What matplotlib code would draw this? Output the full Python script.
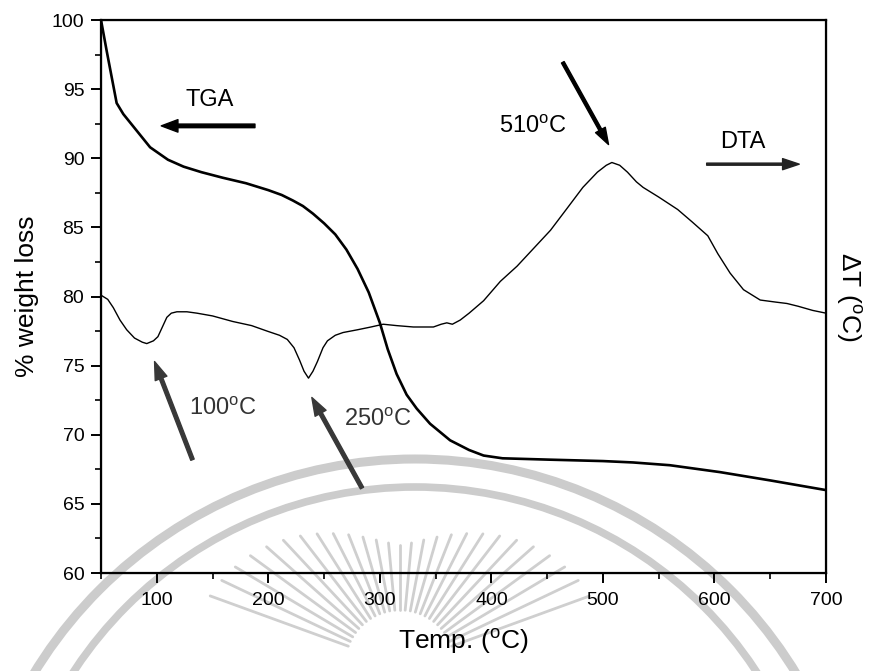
import matplotlib
matplotlib.use('Agg')
import numpy as np
import matplotlib.pyplot as plt
from matplotlib.patches import Circle
from matplotlib.ticker import MultipleLocator

plt.rcParams['font.family'] = ['Liberation Sans', 'DejaVu Sans']
plt.rcParams['mathtext.fontset'] = 'custom'
plt.rcParams['mathtext.rm'] = 'Liberation Sans'

# TGA: temperature (C) vs remaining weight (%)
tga_temp = [50, 55, 64, 70, 79, 94, 110, 124, 140, 159, 180, 200, 212, 222, 231,
            240, 250, 260, 270, 280, 290, 300, 307, 315, 324, 333, 345, 363, 380,
            393, 410, 453, 500, 527, 560, 605, 650, 700]
tga_weight = [100, 97.8, 94.0, 93.2, 92.3, 90.8, 89.9, 89.4, 89.0, 88.6, 88.2, 87.7,
              87.35, 86.95, 86.55, 86.0, 85.3, 84.5, 83.4, 82.0, 80.3, 78.1, 76.2,
              74.4, 72.9, 71.9, 70.8, 69.6, 68.9, 68.5, 68.3, 68.2, 68.1, 68.0,
              67.8, 67.3, 66.7, 66.0]

# DTA trace (arbitrary units, plotted on the right axis)
dta_temp = [50, 56, 61, 67, 73, 80, 87, 91, 97, 101, 105, 109, 113, 118, 127, 136,
            150, 168, 185, 199, 210, 217, 223, 228, 232, 236, 240, 244, 249, 253,
            260, 267, 280, 292, 303, 315, 330, 348, 355, 360, 365, 372, 380, 393,
            408, 423, 438, 453, 468, 482, 495, 503, 508, 515, 522, 530, 536, 550,
            567, 580, 594, 603, 614, 626, 641, 655, 665, 675, 688, 700]
dta_signal = [80.1, 79.8, 79.2, 78.3, 77.6, 77.0, 76.7, 76.6, 76.8, 77.1, 77.8, 78.5,
              78.8, 78.9, 78.9, 78.8, 78.6, 78.2, 77.9, 77.5, 77.2, 76.9, 76.3, 75.4,
              74.6, 74.1, 74.6, 75.3, 76.3, 76.8, 77.2, 77.4, 77.6, 77.8, 78.0, 77.9,
              77.8, 77.8, 78.0, 78.1, 78.0, 78.3, 78.8, 79.7, 81.1, 82.2, 83.5, 84.8,
              86.4, 87.9, 89.0, 89.5, 89.7, 89.5, 89.0, 88.3, 87.9, 87.2, 86.3, 85.4,
              84.4, 83.1, 81.7, 80.5, 79.75, 79.6, 79.5, 79.3, 79.0, 78.8]

fig = plt.figure(figsize=(8.74, 6.71), dpi=100)

# faint seal watermark in the background
bg = fig.add_axes([0, 0, 1, 1], zorder=0)
bg.set_xlim(0, 874)
bg.set_ylim(671, 0)
bg.axis('off')
bg.add_patch(Circle((415, 905), 446, fill=False, lw=6.5, ec='#cccccc'))
bg.add_patch(Circle((415, 895), 408, fill=False, lw=5.5, ec='#cccccc'))
for ang in np.linspace(20, 160, 27):
    a = np.radians(ang)
    r_out = 120 + 90 * abs(np.cos(a)) ** 1.5
    bg.plot([400 + 55 * np.cos(a), 400 + r_out * np.cos(a)],
            [665 - 55 * np.sin(a), 665 - r_out * np.sin(a)],
            color='#cfcfcf', lw=2, solid_capstyle='round')

ax = fig.add_axes([0.1156, 0.146, 0.8295, 0.824], zorder=1)
ax.set_facecolor('none')
ax.plot(tga_temp, tga_weight, color='black', lw=1.9)
ax.set_xlim(50, 700)
ax.set_ylim(60, 100)
ax.xaxis.set_major_locator(MultipleLocator(100))
ax.xaxis.set_minor_locator(MultipleLocator(50))
ax.yaxis.set_major_locator(MultipleLocator(5))
ax.yaxis.set_minor_locator(MultipleLocator(2.5))
ax.tick_params(which='major', direction='out', length=7, width=1.4, labelsize=14)
ax.tick_params(which='minor', direction='out', length=4, width=1.2)
ax.tick_params(axis='x', pad=7)
ax.tick_params(axis='y', pad=5)
for sp in ax.spines.values():
    sp.set_linewidth(1.6)
ax.set_xlabel('Temp. ($^{\\mathrm{o}}$C)', fontsize=19, labelpad=12)
ax.set_ylabel('% weight loss', fontsize=19, labelpad=9)

ax2 = ax.twinx()
ax2.plot(dta_temp, dta_signal, color='black', lw=1.0)
ax2.set_ylim(60, 100)
ax2.set_yticks([])
ax2.set_ylabel('$\\Delta$T ($^{\\mathrm{o}}$C)', fontsize=19, rotation=270, labelpad=27)

# labels and arrows
ax.text(147, 94.2, 'TGA', fontsize=17, ha='center', va='center')
ax.annotate('', xy=(104, 92.35), xytext=(188, 92.35),
            arrowprops=dict(facecolor='black', edgecolor='black', width=2.6,
                            headwidth=9, headlength=12, shrink=0))
ax.text(625, 91.2, 'DTA', fontsize=17, ha='center', va='center')
ax.annotate('', xy=(676, 89.58), xytext=(593, 89.58),
            arrowprops=dict(facecolor='#222222', edgecolor='#222222', width=1.5,
                            headwidth=8, headlength=12, shrink=0))
ax.text(437, 92.3, '510$^{\\mathrm{o}}$C', fontsize=17, ha='center', va='center')
ax.annotate('', xy=(505, 91.0), xytext=(464, 96.95),
            arrowprops=dict(facecolor='black', edgecolor='black', width=2.2,
                            headwidth=8, headlength=12, shrink=0))
ax.text(159, 71.9, '100$^{\\mathrm{o}}$C', fontsize=17, ha='center', va='center',
        color='#333333')
ax.annotate('', xy=(98, 75.3), xytext=(132, 68.2),
            arrowprops=dict(facecolor='#383838', edgecolor='#383838', width=2.6,
                            headwidth=9, headlength=13, shrink=0))
ax.text(298, 71.1, '250$^{\\mathrm{o}}$C', fontsize=17, ha='center', va='center',
        color='#333333')
ax.annotate('', xy=(239, 72.7), xytext=(284, 66.15),
            arrowprops=dict(facecolor='#383838', edgecolor='#383838', width=2.6,
                            headwidth=9, headlength=13, shrink=0))

fig.savefig('out.png', dpi=100)
